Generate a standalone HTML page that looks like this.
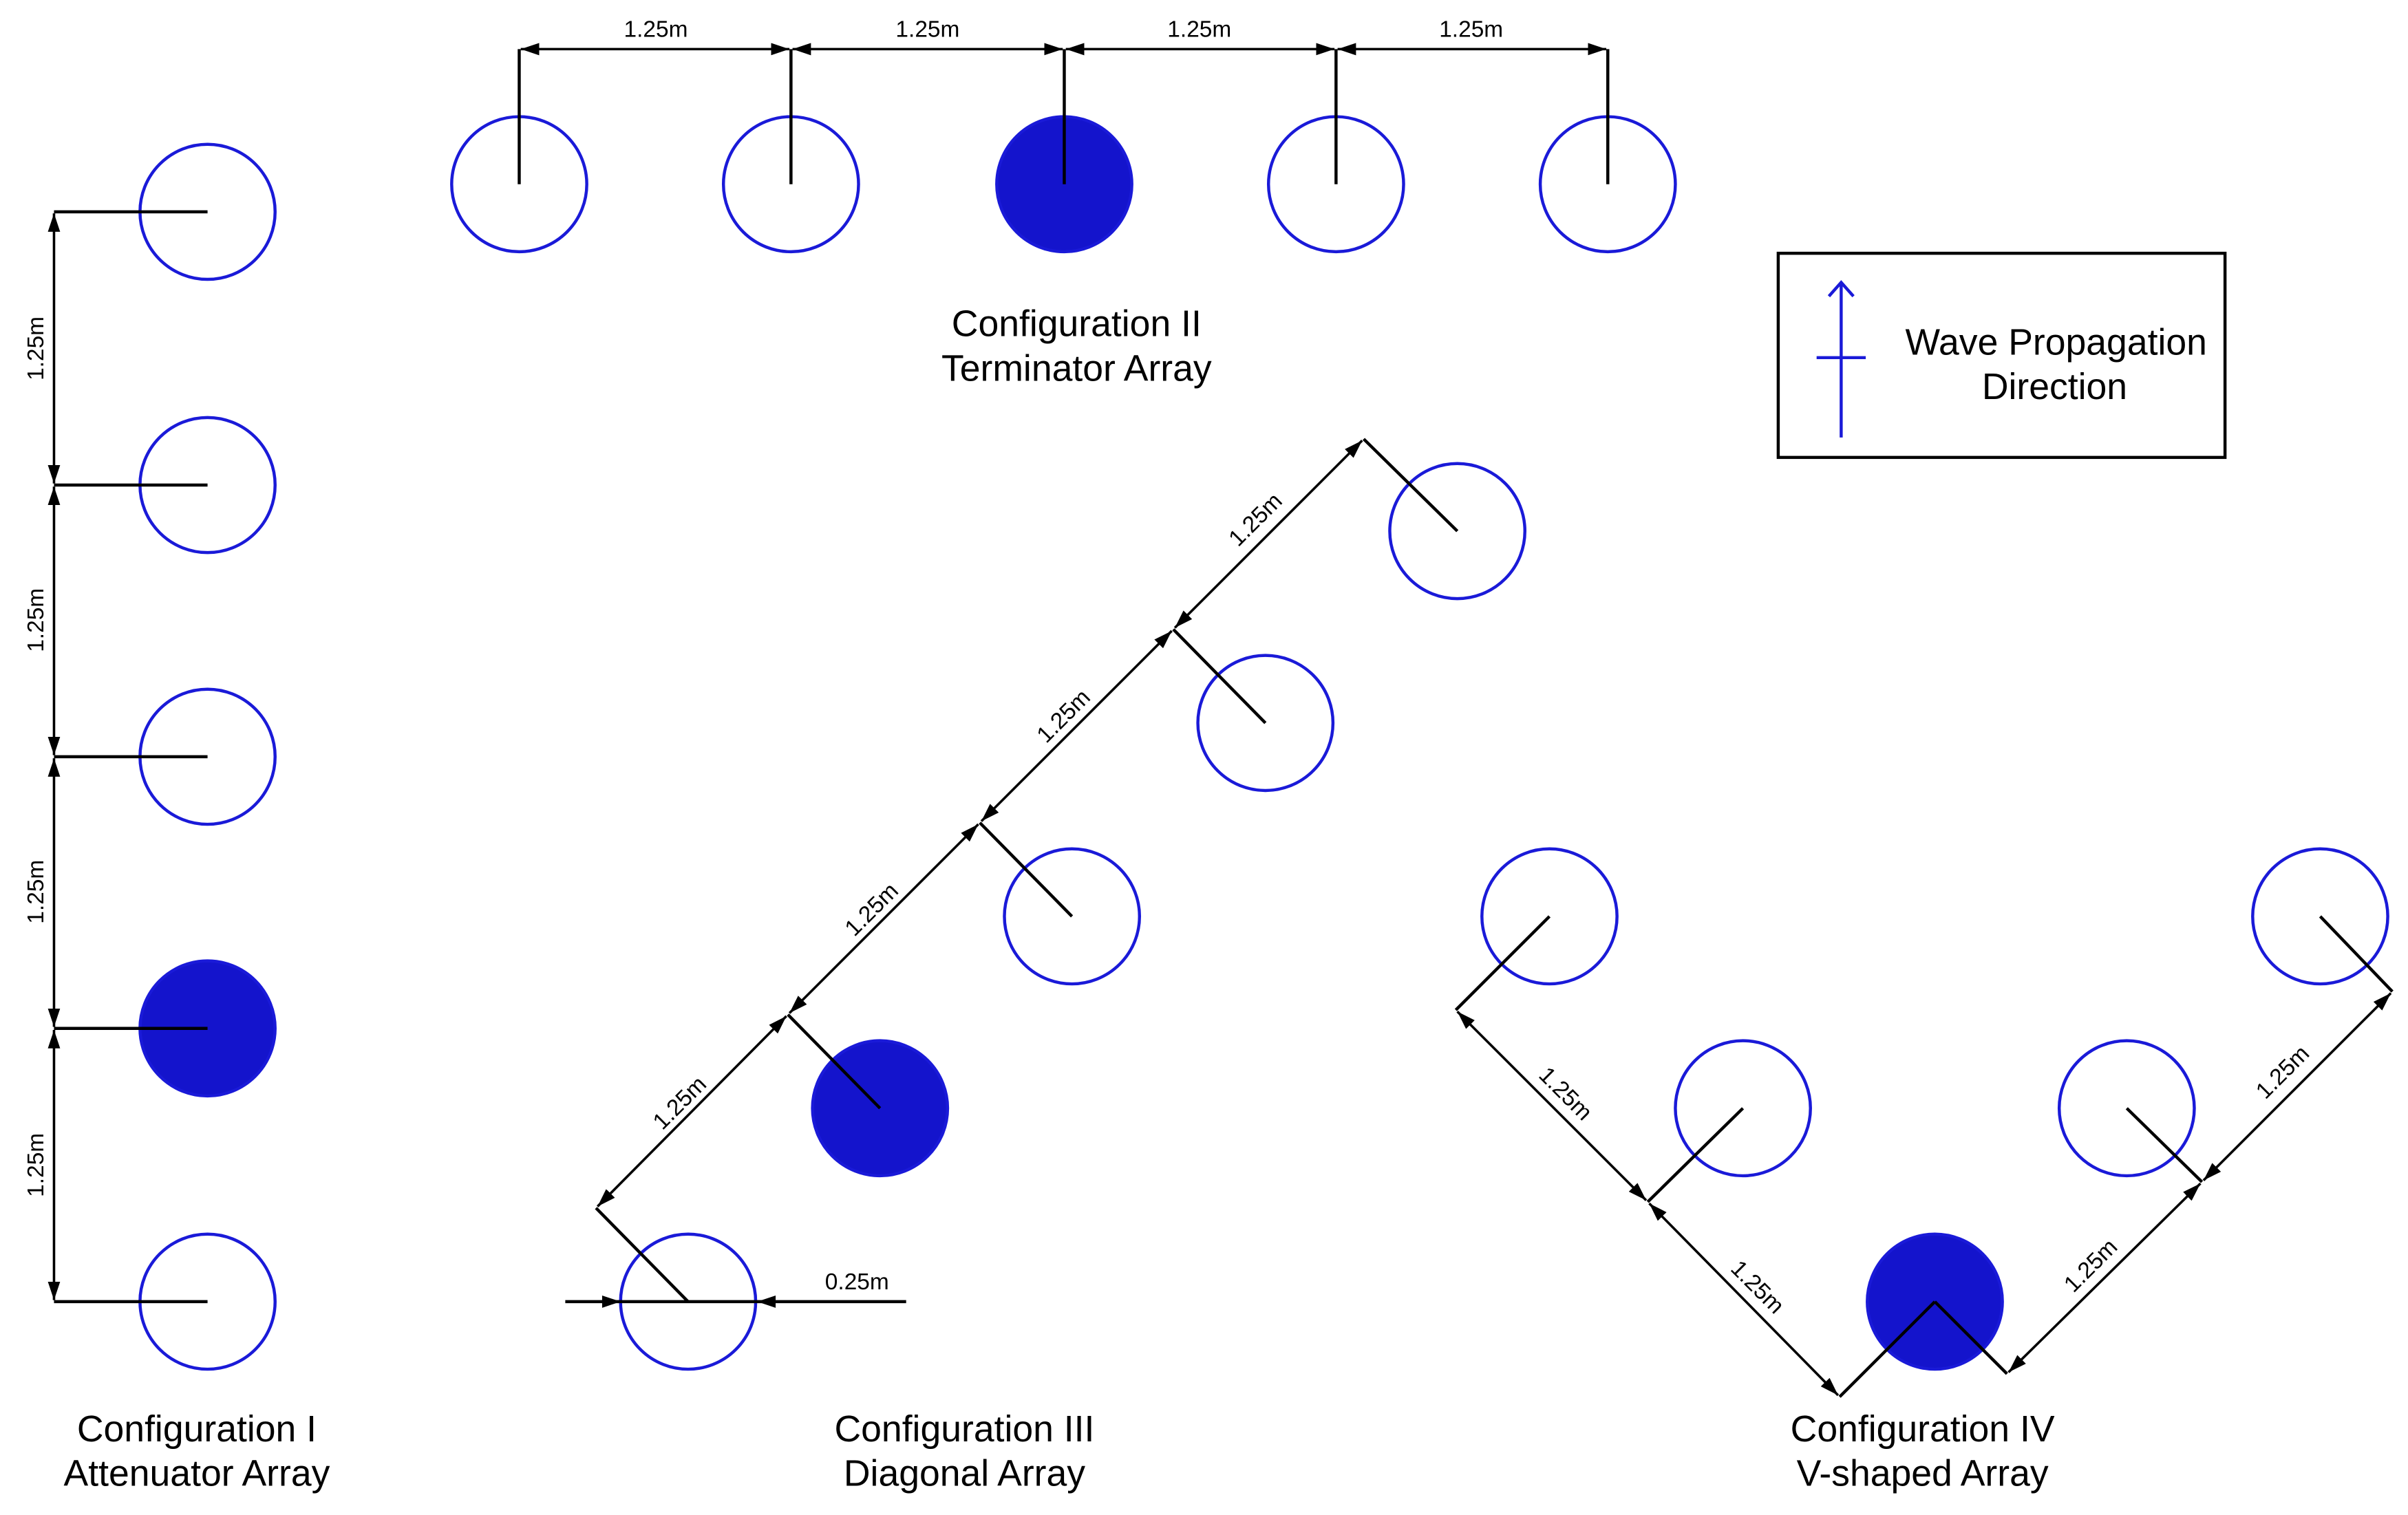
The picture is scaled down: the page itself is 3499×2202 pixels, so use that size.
<!DOCTYPE html>
<html><head><meta charset="utf-8"><style>
html,body{margin:0;padding:0;background:#fff;}
svg{display:block;}
text{font-family:"Liberation Sans",sans-serif;fill:#000;}
.c{fill:none;stroke:#1a1ad8;stroke-width:2;}
.f{fill:#1414cc;stroke:#1a1ad8;stroke-width:2;}
.l{stroke:#000;stroke-width:2;fill:none;}
.d{stroke:#000;stroke-width:1.6;fill:none;marker-start:url(#a);marker-end:url(#a);}
.s{font-size:15px;}
.b{font-size:24px;}
</style></head><body>
<svg width="3499" height="2202" viewBox="0 0 1568 987" xmlns="http://www.w3.org/2000/svg">
<defs>
<marker id="a" viewBox="0 0 12 8" refX="12" refY="4" markerWidth="12" markerHeight="8" markerUnits="userSpaceOnUse" orient="auto-start-reverse">
<path d="M0,0 L12,4 L0,8 z" fill="#000"/></marker>
</defs>
<rect width="1568" height="987" fill="#fff"/>
<g>
<circle class="c" cx="135" cy="138" r="44"/>
<circle class="c" cx="135" cy="316" r="44"/>
<circle class="c" cx="135" cy="493" r="44"/>
<circle class="f" cx="135" cy="670" r="44"/>
<circle class="c" cx="135" cy="848" r="44"/>
<path class="l" d="M35,138H135M35,316H135M35,493H135M35,670H135M35,848H135"/>
<line class="d" x1="35" y1="139" x2="35" y2="315"/>
<line class="d" x1="35" y1="317" x2="35" y2="492"/>
<line class="d" x1="35" y1="494" x2="35" y2="669"/>
<line class="d" x1="35" y1="671" x2="35" y2="847"/>
<g class="s" text-anchor="middle">
<text transform="translate(28,227) rotate(-90)">1.25m</text>
<text transform="translate(28,404) rotate(-90)">1.25m</text>
<text transform="translate(28,581) rotate(-90)">1.25m</text>
<text transform="translate(28,759) rotate(-90)">1.25m</text>
</g>
<text class="b" x="128" y="939" text-anchor="middle">Configuration I</text>
<text class="b" x="128" y="968" text-anchor="middle">Attenuator Array</text>
</g>
<g>
<circle class="c" cx="338" cy="120" r="44"/>
<circle class="c" cx="515" cy="120" r="44"/>
<circle class="f" cx="693" cy="120" r="44"/>
<circle class="c" cx="870" cy="120" r="44"/>
<circle class="c" cx="1047" cy="120" r="44"/>
<path class="l" d="M338,32V120M515,32V120M693,32V120M870,32V120M1047,32V120"/>
<line class="d" x1="339" y1="32" x2="514" y2="32"/>
<line class="d" x1="516" y1="32" x2="692" y2="32"/>
<line class="d" x1="694" y1="32" x2="869" y2="32"/>
<line class="d" x1="871" y1="32" x2="1046" y2="32"/>
<g class="s" text-anchor="middle">
<text x="427" y="24">1.25m</text><text x="604" y="24">1.25m</text>
<text x="781" y="24">1.25m</text><text x="958" y="24">1.25m</text>
</g>
<text class="b" x="701" y="219" text-anchor="middle">Configuration II</text>
<text class="b" x="701" y="248" text-anchor="middle">Terminator Array</text>
</g>
<rect x="1158" y="165" width="291" height="133" fill="none" stroke="#000" stroke-width="2"/>
<path d="M1199,285V184M1191,193L1199,184L1207,193M1183,233H1215" stroke="#1a1ad8" stroke-width="2" fill="none"/>
<text class="b" x="1339" y="231" text-anchor="middle">Wave Propagation</text>
<text class="b" x="1338" y="260" text-anchor="middle">Direction</text>
<g>
<circle class="c" cx="448" cy="848" r="44"/>
<circle class="f" cx="573" cy="722" r="44"/>
<circle class="c" cx="698" cy="597" r="44"/>
<circle class="c" cx="824" cy="471" r="44"/>
<circle class="c" cx="949" cy="346" r="44"/>
<path class="l" d="M949,346L888,286M824,471L764,410M698,597L638,536M573,722L513,661M448,848L388,787"/>
<line class="d" x1="389" y1="786" x2="512" y2="662"/>
<line class="d" x1="514" y1="660" x2="637" y2="537"/>
<line class="d" x1="639" y1="535" x2="763" y2="411"/>
<line class="d" x1="765" y1="409" x2="887" y2="287"/>
<g class="s" text-anchor="middle">
<text transform="translate(446,722) rotate(-45)">1.25m</text>
<text transform="translate(571,596) rotate(-45)">1.25m</text>
<text transform="translate(696,470) rotate(-45)">1.25m</text>
<text transform="translate(821,342) rotate(-45)">1.25m</text>
</g>
<path class="l" d="M368,848H590"/>
<path d="M404,848L392,844L392,852z M493,848L505,844L505,852z" fill="#000"/>
<text class="s" x="558" y="840" text-anchor="middle">0.25m</text>
<text class="b" x="628" y="939" text-anchor="middle">Configuration III</text>
<text class="b" x="628" y="968" text-anchor="middle">Diagonal Array</text>
</g>
<g>
<circle class="c" cx="1009" cy="597" r="44"/>
<circle class="c" cx="1135" cy="722" r="44"/>
<circle class="f" cx="1260" cy="848" r="44"/>
<circle class="c" cx="1385" cy="722" r="44"/>
<circle class="c" cx="1511" cy="597" r="44"/>
<path class="l" d="M1009,597L948,658M1135,722L1073,783M1260,848L1198,910M1511,597L1558,646M1385,722L1434,770M1260,848L1307,895"/>
<line class="d" x1="949" y1="659" x2="1072" y2="782"/>
<line class="d" x1="1074" y1="784" x2="1197" y2="909"/>
<line class="d" x1="1308" y1="894" x2="1433" y2="771"/>
<line class="d" x1="1435" y1="769" x2="1557" y2="647"/>
<g class="s" text-anchor="middle">
<text transform="translate(1016,716) rotate(45)">1.25m</text>
<text transform="translate(1141,842) rotate(45)">1.25m</text>
<text transform="translate(1365,828) rotate(-45)">1.25m</text>
<text transform="translate(1490,702) rotate(-45)">1.25m</text>
</g>
<text class="b" x="1252" y="939" text-anchor="middle">Configuration IV</text>
<text class="b" x="1252" y="968" text-anchor="middle">V-shaped Array</text>
</g>
</svg>
</body></html>
